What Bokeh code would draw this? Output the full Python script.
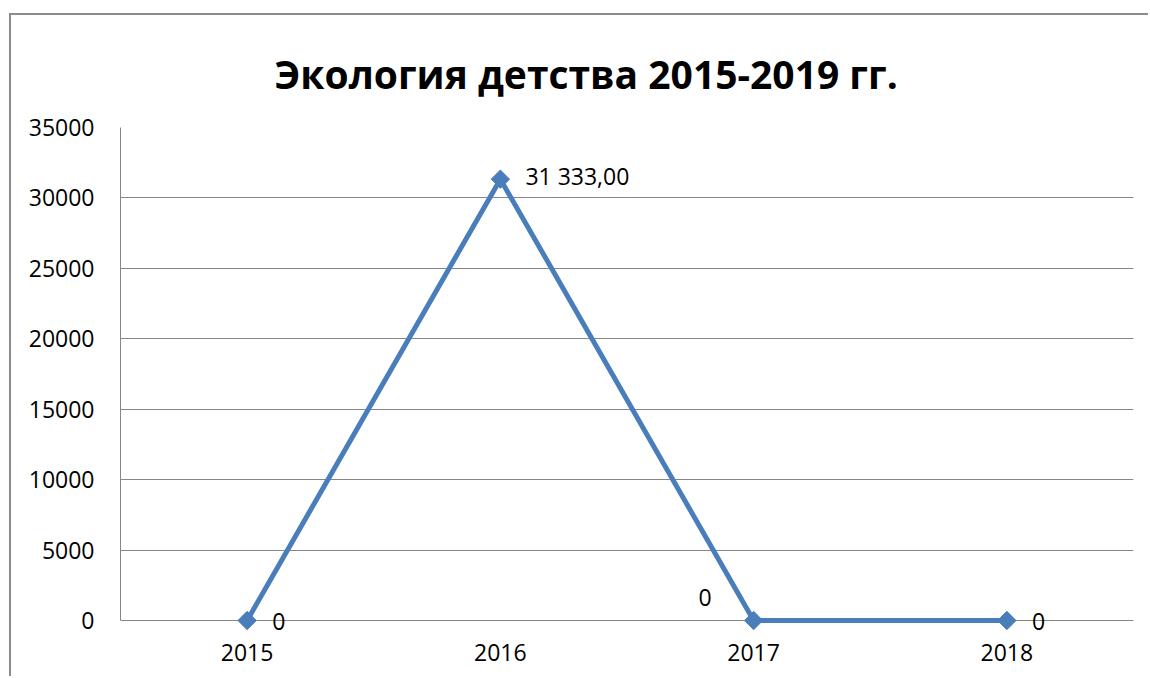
import math
from bokeh.plotting import figure
from bokeh.models import FactorRange, Range1d, ColumnDataSource
from bokeh.core.properties import value
from bokeh.embed import file_html
from bokeh.resources import INLINE

# ---- data ----
title_text = "Экология детства  2015-2019 гг."
years = ["2015", "2016", "2017", "2018"]
amounts = [0, 31333.00, 0, 0]
point_labels = ["0", "31 333,00", "0", "0"]
y_ticks = [0, 5000, 10000, 15000, 20000, 25000, 30000, 35000]

FONT = "Open Sans"
GRAY = "#868686"
BLUE = "#4A7EBB"

FRAME_H = 505
pad_px = 12  # extra room below zero so markers/labels at 0 are not clipped
y_lo = -pad_px / (FRAME_H - pad_px) * y_ticks[-1]

p = figure(
    x_range=FactorRange(*years, range_padding=0),
    y_range=Range1d(y_lo, y_ticks[-1]),
    width=1139, height=663,
    output_backend="svg", toolbar_location=None,
    min_border_left=109, min_border_right=17,
    min_border_top=112, min_border_bottom=46,
)
p.styles = {"border-left": "2px solid #8c8c8c", "border-top": "2px solid #8c8c8c",
            "margin-left": "9px", "margin-top": "13px"}
p.outline_line_color = None
p.background_fill_color = "white"
p.border_fill_color = "white"

p.title.text = title_text
p.title.text_font = FONT
p.title.text_font_size = "39px"
p.title.text_font_style = "bold"
p.title.text_color = "black"
p.title.align = "left"
p.title.offset = 154
try:
    p.title.standoff = 56
except Exception:
    pass

# grid
p.xgrid.grid_line_color = None
p.ygrid.grid_line_color = GRAY
p.ygrid.grid_line_width = 1
p.yaxis.ticker = y_ticks

for ax in (p.xaxis, p.yaxis):
    ax.axis_line_color = GRAY
    ax.axis_line_width = 1
    ax.major_tick_line_color = None
    ax.minor_tick_line_color = None
    ax.major_tick_in = 0
    ax.major_tick_out = 0
    ax.major_label_text_font = FONT
    ax.major_label_text_font_size = "23px"
    ax.major_label_text_color = "black"
p.xaxis.axis_line_color = None
p.yaxis.bounds = (y_ticks[0], y_ticks[-1])
p.yaxis.major_label_standoff = 26
p.xaxis.major_label_standoff = 11

src = ColumnDataSource(dict(x=years, y=amounts))
p.line("x", "y", source=src, line_color=BLUE, line_width=5)
p.scatter("x", "y", source=src, marker="square", angle=math.pi / 4, size=13,
          fill_color=BLUE, line_color=BLUE)

# data labels (Excel auto placement)
lab_src = ColumnDataSource(dict(
    x=years, y=amounts, t=point_labels,
    dx=[25, 25, -42, 25], dy=[1, -3, -23, 1],
    al=["left", "left", "right", "left"],
))
p.text("x", "y", text="t", source=lab_src, x_offset="dx", y_offset="dy",
       text_align="al", text_baseline="middle",
       text_font=value(FONT), text_font_size="23px", text_color="black")

open("out.html", "w").write(file_html(p, INLINE))
